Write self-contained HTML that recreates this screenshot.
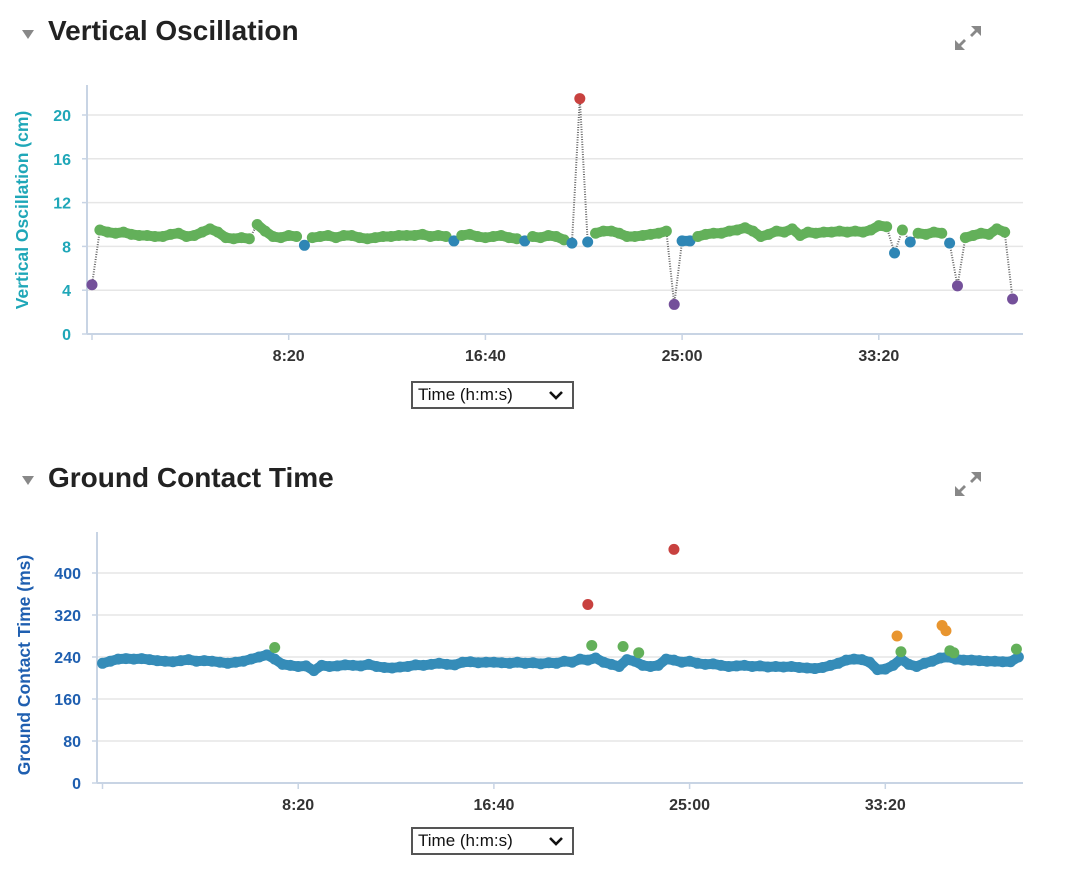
<!DOCTYPE html>
<html><head><meta charset="utf-8"><style>
body{margin:0;background:#fff;width:1076px;height:877px;overflow:hidden;font-family:"Liberation Sans",sans-serif}
.t{position:absolute;left:48px;font-size:28px;font-weight:bold;color:#222}
.tri{position:absolute;left:22px;width:0;height:0;border-left:6px solid transparent;border-right:6px solid transparent;border-top:9px solid #888}
.dd{position:absolute;left:411px;width:154px;height:24px;border:2px solid #555;font-size:17px;color:#111;line-height:24px;padding-left:5px;box-sizing:content-box}
svg{position:absolute;left:0;top:0}
.dd svg{left:auto;right:8px;top:7px}
</style></head><body>
<div class="tri" style="top:30px"></div>
<div class="t" style="top:15px">Vertical Oscillation</div>
<div class="tri" style="top:476px"></div>
<div class="t" style="top:462px">Ground Contact Time</div>
<div class="dd" style="top:381px">Time (h:m:s)<svg width="16" height="11"><polyline points="2,2 8,8 14,2" fill="none" stroke="#111" stroke-width="2.6"/></svg></div>
<div class="dd" style="top:827px">Time (h:m:s)<svg width="16" height="11"><polyline points="2,2 8,8 14,2" fill="none" stroke="#111" stroke-width="2.6"/></svg></div>
<svg id="s" width="1076" height="877">
<g fill="#888">
<polygon points="981,26 981,36 977,32 972,37 970,35 975,30 971,26"/><polygon points="955,50 955,40 959,44 964,39 966,41 961,46 965,50"/></g>
<g fill="#888">
<polygon points="981,472 981,482 977,478 972,483 970,481 975,476 971,472"/><polygon points="955,496 955,486 959,490 964,485 966,487 961,492 965,496"/></g>
</svg>
<script>
const voStep=20;
const voValues=[4.5,9.5,9.3,9.2,9.3,9.1,9.0,9.0,8.9,8.9,9.1,9.2,8.9,9.0,9.3,9.6,9.3,8.8,8.7,8.8,8.7,10.0,9.4,8.9,8.8,9.0,8.9,8.1,8.8,8.9,9.0,8.8,9.0,9.0,8.8,8.7,8.8,8.9,8.9,9.0,9.0,9.0,9.1,8.9,9.0,8.9,8.5,9.0,9.1,8.9,8.8,8.9,9.0,8.8,8.7,8.5,8.9,8.8,9.0,8.9,8.6,8.3,21.5,8.4,9.2,9.4,9.4,9.2,8.9,8.9,9.0,9.1,9.2,9.4,2.7,8.5,8.5,8.9,9.1,9.2,9.2,9.4,9.5,9.7,9.4,8.9,9.1,9.4,9.3,9.6,9.0,9.3,9.2,9.3,9.3,9.4,9.3,9.4,9.3,9.5,9.9,9.8,7.4,9.5,8.4,9.2,9.1,9.3,9.2,8.3,4.4,8.8,9.0,9.2,9.1,9.6,9.3,3.2];
const voTicks=[0,4,8,12,16,20];
const xTicks=[0,500,1000,1500,2000];
const xTickLabels=["","8:20","16:40","25:00","33:20"];
const gctStep=20;
const gctValues=[228,232,236,237,236,237,235,233,232,231,233,235,232,233,232,230,228,230,232,236,240,244,236,226,224,222,223,214,224,222,223,225,224,223,226,222,220,219,221,222,225,224,226,228,226,225,230,231,229,230,230,229,228,230,228,229,227,229,228,232,230,236,234,238,230,226,222,235,232,224,222,224,236,234,230,232,228,226,227,224,222,223,224,222,223,221,222,221,222,220,219,218,220,224,228,234,236,235,230,216,217,224,236,226,222,228,232,238,240,236,234,234,233,232,232,231,231,240];
const gctOutTimes=[440,1240,1250,1330,1370,1460,2030,2040,2145,2155,2165,2175,2335];
const gctOutValues=[258,340,262,260,248,445,280,250,300,290,252,248,255];
const gctTicks=[0,80,160,240,320,400];

const S=document.getElementById('s'),NS='http://www.w3.org/2000/svg';
function mk(t,a,p){const e=document.createElementNS(NS,t);for(const k in a)e.setAttribute(k,a[k]);(p||S).appendChild(e);return e;}
function chart(o){
  const X=t=>o.x0+t*o.kx, Y=v=>o.y0-v*o.ky;
  const g=mk('g',{});
  
  
  o.yt.forEach(v=>{
    const l=mk('line',{x1:o.ax,x2:1023,y1:Y(v),y2:Y(v),stroke:v?'#e6e6e6':'#c8d4e4','stroke-width':v?1.5:2},g);
    
    
    mk('line',{x1:o.ax-5,x2:o.ax,y1:Y(v),y2:Y(v),stroke:'#c8d4e4','stroke-width':1.5},g);
    const tx=mk('text',{x:o.ax-16,y:Y(v)+6,'text-anchor':'end','font-size':16,'font-weight':'bold',fill:o.col,'font-family':'Liberation Sans'},g);
    tx.textContent=v;
    
    
  });
  const ya=mk('line',{x1:o.ax,x2:o.ax,y1:o.ytop,y2:o.y0,stroke:'#c8d4e4','stroke-width':2},g);
  
  
  xTicks.forEach((t,i)=>{
    mk('line',{x1:X(t),x2:X(t),y1:o.y0,y2:o.y0+6,stroke:'#c8d4e4','stroke-width':1.5},g);
    const tx=mk('text',{x:X(t),y:o.y0+27,'text-anchor':'middle','font-size':16,'font-weight':'bold',fill:'#333','font-family':'Liberation Sans'},g);
    tx.textContent=xTickLabels[i];
    
    
  });
  const ttl=mk('text',{transform:`translate(${o.tx},${o.ty}) rotate(-90)`,'text-anchor':'middle','font-size':17.5,'font-weight':'bold',fill:o.col,'font-family':'Liberation Sans'},g);
  ttl.textContent=o.title;
  
  
  const pts=o.vals.map((v,i)=>[X(i*o.step),Y(v),v]);
  if(o.line){
    const pl=mk('polyline',{points:pts.map(p=>p[0]+','+p[1]).join(' '),fill:'none',stroke:'#666','stroke-width':2,'stroke-dasharray':'1 1.5'},g);
    
    
  }
  for(let i=1;i<pts.length;i++){
    const a=pts[i-1],b=pts[i];
    if(o.color(a[2])===o.color(b[2])&&Math.abs(a[1]-b[1])<12){
      mk('line',{x1:a[0],y1:a[1],x2:b[0],y2:b[1],stroke:o.color(a[2]),'stroke-width':10,'stroke-linecap':'round'},g);
    }
  }
  const all=pts.slice();
  (o.extraT||[]).forEach((t,i)=>all.push([X(t),Y(o.extraV[i]),o.extraV[i]]));
  all.forEach(p=>{
    const c=mk('circle',{cx:p[0],cy:p[1],r:5.5,fill:o.color(p[2])},g);
    
    
  });
}
chart({name:'vo',x0:92,kx:0.3934,y0:334,ky:10.95,ax:87,ytop:85,yt:voTicks,col:'#1fa7b8',title:'Vertical Oscillation (cm)',tx:28,ty:210,
  vals:voValues,step:voStep,line:true,
  color:v=>v<6?'#74509a':v<8.6?'#2e86b5':v<13?'#63b05a':'#c8413f'});
chart({name:'gct',x0:102.5,kx:0.3914,y0:783,ky:0.525,ax:97,ytop:532,yt:gctTicks,col:'#1f5fb0',title:'Ground Contact Time (ms)',tx:30,ty:665,
  vals:gctValues,step:gctStep,line:false,extraT:gctOutTimes,extraV:gctOutValues,
  color:v=>v<245?'#358cb8':v<270?'#63b05a':v<320?'#e8952f':'#c8413f'});
</script>
</body></html>
